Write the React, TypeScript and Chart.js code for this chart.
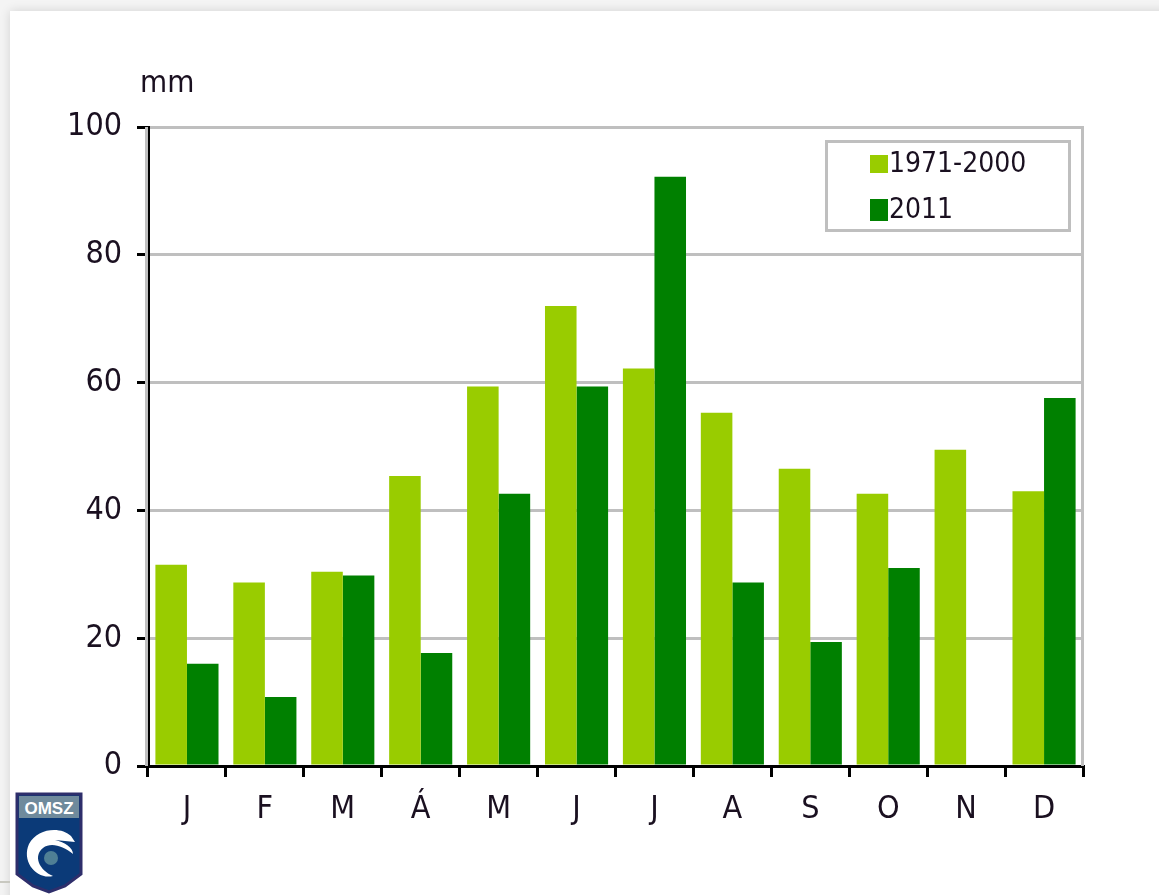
import React, { useEffect, useRef } from "react";
import { Chart, registerables } from "chart.js";

Chart.register(...registerables);

const months = ["J", "F", "M", "Á", "M", "J", "J", "A", "S", "O", "N", "D"];
const normalLabel = "1971-2000";
const normalValues = [31.5, 28.7, 30.4, 45.4, 59.4, 72, 62.2, 55.3, 46.5, 42.6, 49.5, 43];
const yearLabel = "2011";
const yearValues = [16, 10.8, 29.8, 17.7, 42.6, 59.4, 92.2, 28.7, 19.4, 31, null, 57.6];
const unit = "mm";

const TICK_FONT = '"DejaVu Sans Condensed", "DejaVu Sans", sans-serif';
const INK = "#1a1020";
const GRAY = "#bfbfbf";

const framePlugin = {
  id: "frame",
  beforeDatasetsDraw(chart: any) {
    const { ctx, chartArea: a } = chart;
    ctx.save();
    ctx.fillStyle = GRAY;
    ctx.fillRect(a.right - 2, a.top - 1, 3, a.bottom - a.top + 1);
    ctx.fillRect(a.left - 3, a.top, 3, a.bottom - a.top);
    ctx.restore();
  },
  afterDraw(chart: any) {
    const { ctx, chartArea: a } = chart;
    ctx.save();
    // unit label
    ctx.fillStyle = INK;
    ctx.font = `31px ${TICK_FONT}`;
    ctx.textBaseline = "alphabetic";
    ctx.textAlign = "left";
    ctx.fillText(unit, 140, 92);
    // legend
    const bx = a.left + 678, by = a.top + 14, bw = 244, bh = 90;
    ctx.fillStyle = "#ffffff";
    ctx.fillRect(bx, by, bw, bh);
    ctx.strokeStyle = GRAY;
    ctx.lineWidth = 3;
    ctx.strokeRect(bx + 0.5, by + 0.5, bw - 1, bh - 1);
    ctx.font = `28px ${TICK_FONT}`;
    chart.data.datasets.forEach((d: any, i: number) => {
      const y = i === 0 ? 155 : 199;
      const h = i === 0 ? 18 : 22;
      ctx.fillStyle = d.backgroundColor;
      ctx.fillRect(870, y, 18, h);
      ctx.fillStyle = INK;
      ctx.fillText(d.label, 889, i === 0 ? 172 : 218);
    });
    ctx.restore();
  },
};

export default function App() {
  const ref = useRef<HTMLCanvasElement | null>(null);
  useEffect(() => {
    document.body.style.margin = "0";
    document.body.style.overflow = "hidden";
    const chart = new Chart(ref.current as HTMLCanvasElement, {
      type: "bar",
      data: {
        labels: months,
        datasets: [
          { label: normalLabel, data: normalValues, backgroundColor: "#99cc00", categoryPercentage: 0.81, barPercentage: 1 },
          { label: yearLabel, data: yearValues, backgroundColor: "#008000", categoryPercentage: 0.81, barPercentage: 1 },
        ],
      },
      options: {
        responsive: false,
        animation: false,
        layout: { padding: { top: 127, right: 76, left: 0, bottom: 0 } },
        plugins: { legend: { display: false }, title: { display: false }, tooltip: { enabled: false } },
        scales: {
          x: {
            afterFit(s: any) { s.height = 129; },
            grid: { drawOnChartArea: false, drawTicks: true, tickLength: 11, color: "#000000", lineWidth: 3 },
            border: { color: "#000000", width: 3 },
            ticks: { color: INK, padding: 13, font: { family: TICK_FONT, size: 32 }, maxRotation: 0, autoSkip: false },
          },
          y: {
            min: 0,
            max: 100,
            afterFit(s: any) { s.width = 148; },
            grid: { color: GRAY, lineWidth: 3, tickColor: "#000000", tickLength: 11 },
            border: { color: "#000000", width: 3 },
            ticks: { stepSize: 20, color: INK, padding: 15, font: { family: TICK_FONT, size: 32 } },
          },
        },
      },
      plugins: [framePlugin],
    } as any);
    return () => chart.destroy();
  }, []);

  return (
    <div style={{ position: "fixed", left: 0, top: 0, width: 1159, height: 895, background: "#f4f4f4", overflow: "hidden" }}>
      <div style={{ position: "absolute", left: 10, top: 11, width: 1200, height: 920, background: "#ffffff", boxShadow: "0 0 10px rgba(0,0,0,0.14)" }} />
      <canvas ref={ref} width={1159} height={895} style={{ position: "absolute", left: 0, top: 0, display: "block" }} />
      <svg width={68} height={102} viewBox="0 0 68 102" style={{ position: "absolute", left: 15, top: 792 }}>
        <path d="M2 2 H66 V82 L50 94 L34 100 L18 94 L2 82 Z" fill="#0b3a78" stroke="#2e2e6b" strokeWidth={3} />
        <rect x={4} y={4} width={60} height={22} fill="#6f8a9c" />
        <text x={34} y={22} textAnchor="middle" fill="#ffffff" fontFamily="Liberation Sans" fontSize={17} fontWeight={700}>OMSZ</text>
        <path d="M56 44 C46 34 22 36 14 52 C6 70 22 88 38 84 C24 78 18 64 28 56 C36 50 48 54 58 62 C58 56 50 50 40 48 L60 50 Z" fill="#ffffff" />
        <circle cx={36} cy={66} r={7} fill="#4f7f95" />
      </svg>
      <div style={{ position: "absolute", left: 0, top: 881, width: 10, height: 2, background: "#c8c8c0" }} />
    </div>
  );
}
